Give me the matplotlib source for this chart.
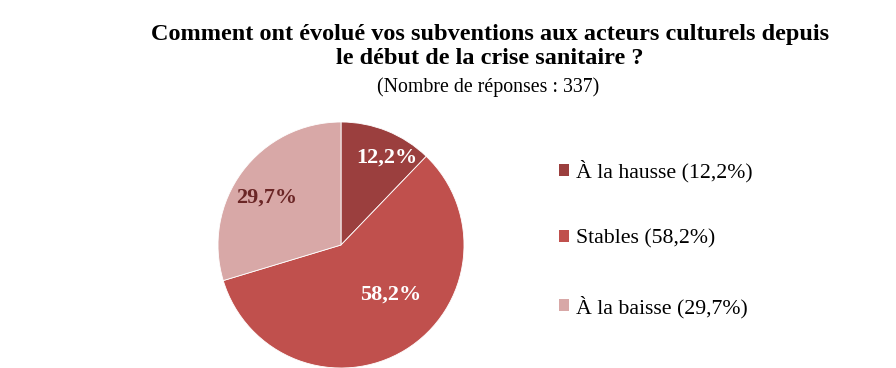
import matplotlib
matplotlib.use("Agg")
import matplotlib.pyplot as plt
import numpy as np
from matplotlib.patches import Patch

categories = ["À la hausse", "Stables", "À la baisse"]
values = [12.2, 58.2, 29.7]
colors = ["#9B3F3E", "#C0504D", "#D8A8A7"]
label_colors = ["white", "white", "#6B2626"]
label_radius = [0.80, 0.57, 0.72]
label_dangle = [-6, 14, 4]

plt.rcParams['font.family'] = ['Liberation Serif', 'DejaVu Serif']

fig = plt.figure(figsize=(8.96, 3.68), dpi=100)
fig.patch.set_facecolor("white")

ax = fig.add_axes([(341 - 123) / 896, 0.0, 246 / 896, 246 / 368])
wedges, _ = ax.pie(values, colors=colors, startangle=90, counterclock=False,
                   radius=1.0, wedgeprops=dict(linewidth=0.6, edgecolor="white"))
ax.set_xlim(-1, 1)
ax.set_ylim(-1, 1)
ax.set_aspect("equal")
ax.axis("off")

for w, v, c, r, da in zip(wedges, values, label_colors, label_radius, label_dangle):
    ang = np.deg2rad((w.theta1 + w.theta2) / 2 + da)
    ax.text(r * np.cos(ang), r * np.sin(ang), f"{v:.1f}%".replace(".", ","),
            ha="center", va="center", fontsize=16, fontweight="bold", color=c)

fig.text(0.547, 0.873, "Comment ont évolué vos subventions aux acteurs culturels depuis\nle début de la crise sanitaire ?",
         ha="center", va="center", fontsize=17.5, fontweight="bold", linespacing=1.2)
fig.text(0.545, 0.762, "(Nombre de réponses : 337)", ha="center", va="center", fontsize=14.3)

handles = [Patch(facecolor=c, edgecolor="none") for c in colors]
labels = [f"{n} ({v:.1f}%)".replace(".", ",") for n, v in zip(categories, values)]
fig.legend(handles, labels, loc="center left", bbox_to_anchor=(0.624, 0.3505),
           frameon=False, fontsize=15.7, labelspacing=2.15, handlelength=0.46,
           handleheight=0.46, handletextpad=0.3, borderpad=0, borderaxespad=0)

fig.savefig("out.png", dpi=100)
